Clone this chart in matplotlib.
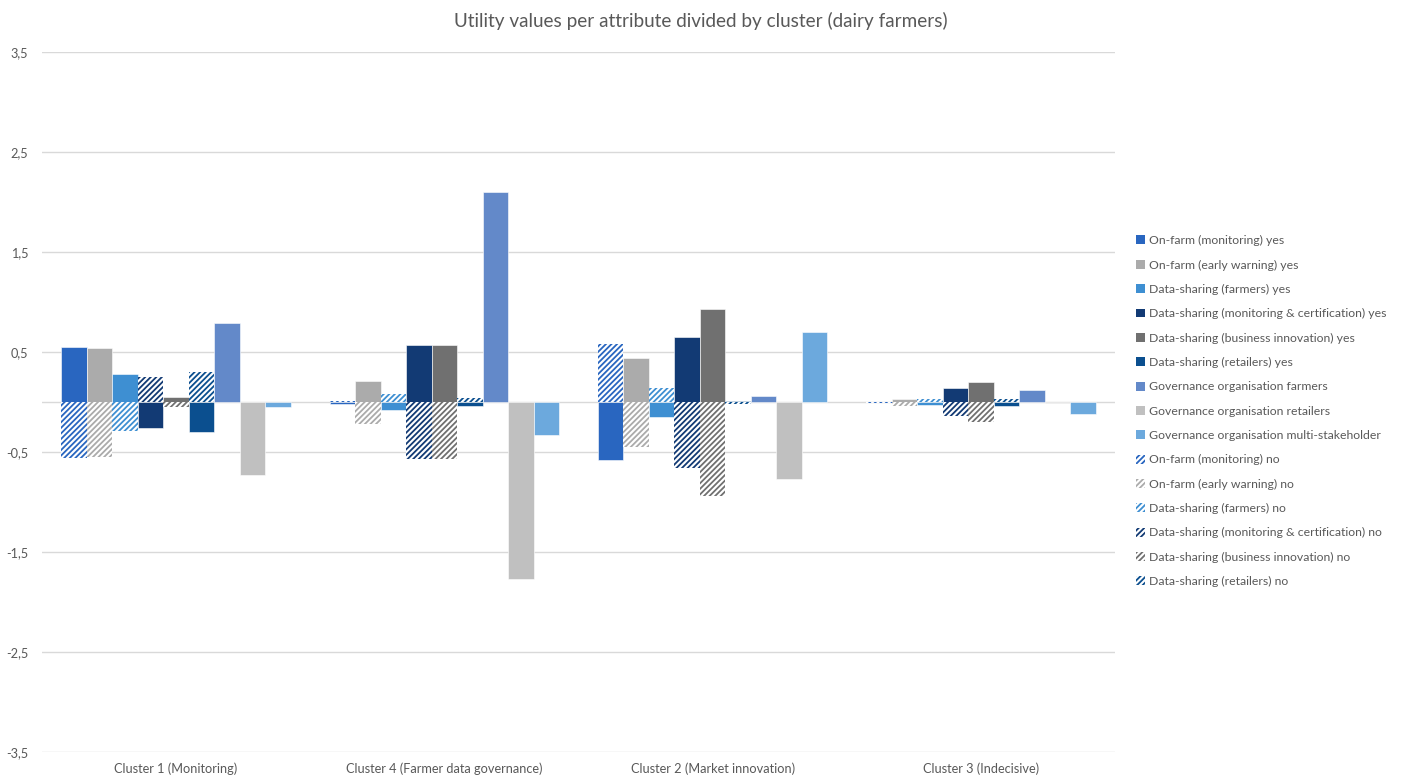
import numpy as np
import matplotlib.pyplot as plt
from matplotlib.patches import Patch

plt.rcParams['font.family'] = ['Lato', 'DejaVu Sans']
plt.rcParams['hatch.linewidth'] = 1.3

# clusters in the order they are shown on the x axis
clusters = ['Cluster 1 (Monitoring)', 'Cluster 4 (Farmer data governance)',
            'Cluster 2 (Market innovation)', 'Cluster 3 (Indecisive)']

# "yes" levels + governance organisations (solid bars), values per cluster
yes_labels = ['On-farm (monitoring) yes', 'On-farm (early warning) yes',
              'Data-sharing (farmers) yes', 'Data-sharing (monitoring & certification) yes',
              'Data-sharing (business innovation) yes', 'Data-sharing (retailers) yes',
              'Governance organisation farmers', 'Governance organisation retailers',
              'Governance organisation multi-stakeholder']
onfarm_monitoring_yes = [0.55, -0.015, -0.58, 0.005]
onfarm_warning_yes = [0.54, 0.21, 0.445, 0.035]
ds_farmers_yes = [0.28, -0.08, -0.145, -0.03]
ds_monitoring_yes = [-0.255, 0.57, 0.655, 0.14]
ds_business_yes = [0.05, 0.57, 0.935, 0.20]
ds_retailers_yes = [-0.30, -0.04, 0.015, -0.035]
gov_farmers = [0.79, 2.095, 0.065, 0.125]
gov_retailers = [-0.73, -1.765, -0.77, -0.01]
gov_multi = [-0.045, -0.33, 0.70, -0.12]

# "no" levels (hatched bars), same slots as the first six yes series
no_labels = ['On-farm (monitoring) no', 'On-farm (early warning) no',
             'Data-sharing (farmers) no', 'Data-sharing (monitoring & certification) no',
             'Data-sharing (business innovation) no', 'Data-sharing (retailers) no']
onfarm_monitoring_no = [-0.555, 0.015, 0.58, -0.005]
onfarm_warning_no = [-0.55, -0.215, -0.445, -0.035]
ds_farmers_no = [-0.29, 0.08, 0.145, 0.03]
ds_monitoring_no = [0.25, -0.57, -0.655, -0.14]
ds_business_no = [-0.05, -0.57, -0.935, -0.20]
ds_retailers_no = [0.30, 0.04, -0.015, 0.035]

yes_values = [onfarm_monitoring_yes, onfarm_warning_yes, ds_farmers_yes, ds_monitoring_yes,
              ds_business_yes, ds_retailers_yes, gov_farmers, gov_retailers, gov_multi]
no_values = [onfarm_monitoring_no, onfarm_warning_no, ds_farmers_no, ds_monitoring_no,
             ds_business_no, ds_retailers_no]

colors = ['#2966C0', '#ABABAB', '#3E8FD2', '#123A74', '#707070', '#0B4F8F',
          '#6389C9', '#C0C0C0', '#6CA9DD']

fig = plt.figure(figsize=(14.02, 7.76), dpi=100)
ax = fig.add_axes([42/1402, 24/776, (1115-42)/1402, 700/776])

x = np.arange(len(clusters))
w = 0.095
handles = []
for i, (vals, lab) in enumerate(zip(yes_values, yes_labels)):
    ax.bar(x + (i - 4) * w, vals, w, color=colors[i], edgecolor='white', linewidth=0.4, zorder=2)
    handles.append(Patch(facecolor=colors[i], edgecolor='none', label=lab))
# hatched "no" bars sit in the same slots as the yes bars
for i, (vals, lab) in enumerate(zip(no_values, no_labels)):
    ax.bar(x + (i - 4) * w, vals, w, color='white', edgecolor=colors[i], hatch='//////',
           linewidth=0, zorder=3)
    handles.append(Patch(facecolor='white', edgecolor=colors[i], hatch='//////', linewidth=0, label=lab))

ax.set_xlim(-0.5, 3.5)
ax.set_ylim(-3.5, 3.5)
ax.set_yticks([3.5, 2.5, 1.5, 0.5, -0.5, -1.5, -2.5, -3.5])
ax.set_yticklabels(['3,5', '2,5', '1,5', '0,5', '-0,5', '-1,5', '-2,5', '-3,5'])
ax.set_xticks(x)
ax.set_xticklabels(clusters)
ax.tick_params(length=0, labelsize=9.2, labelcolor='#595959')
ax.tick_params(axis='y', pad=10)
ax.tick_params(axis='x', pad=7.5)
ax.grid(axis='y', color='#D9D9D9', linewidth=1)
ax.axhline(0, color='#D9D9D9', linewidth=1, zorder=1)
ax.set_axisbelow(True)
for s in ax.spines.values():
    s.set_visible(False)

fig.suptitle('Utility values per attribute divided by cluster (dairy farmers)',
             x=0.5, y=0.985, fontsize=13.6, color='#595959')

fig.legend(handles=handles, loc='upper left', bbox_to_anchor=(1130/1402, 1 - 229/776),
           frameon=False, fontsize=8.8, labelcolor='#595959', handlelength=0.75,
           handleheight=0.75, handletextpad=0.3, labelspacing=1.09, borderpad=0)

fig.savefig('out.png', dpi=100)
